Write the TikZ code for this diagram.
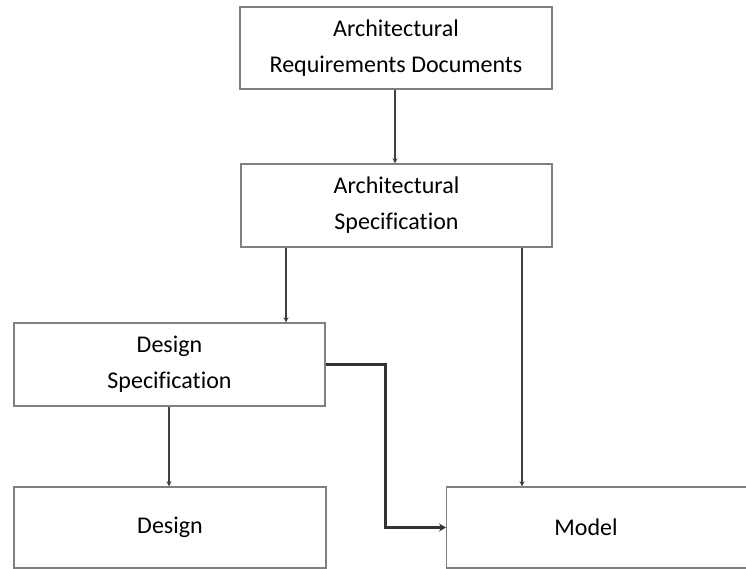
\documentclass[tikz,border=0pt]{standalone}
\usepackage{fontspec}
\setmainfont{Carlito}[Ligatures=NoCommon]
\usetikzlibrary{arrows.meta}
\begin{document}
\begin{tikzpicture}[x=1pt,y=-1pt,
  box/.style={draw=black!50, line width=1.4pt, fill=white, align=center,
    font=\fontsize{24}{36}\selectfont, inner sep=0pt},
  flow/.style={draw=black!75, line width=1.5pt, -{Stealth[length=5pt,width=5pt]}},
  heavyflow/.style={draw=black!80, line width=3pt, -{Stealth[length=7pt,width=8pt]}},
  lbl/.style={font=\fontsize{24}{36}\selectfont, inner sep=0pt}]
  % page frame
  \clip (0,0) rectangle (746,569);
  \fill[white] (0,0) rectangle (746,569);

  % boxes
  \node[box, minimum width=312, minimum height=82] (ard) at (396,48)
    {Architectural\\Requirements Documents};
  \node[box, minimum width=311, minimum height=83] (as) at (396.5,205.5)
    {Architectural\\Specification};
  \node[box, minimum width=311, minimum height=83] (ds) at (169.5,364.5)
    {Design\\Specification};
  \node[box, minimum width=312, minimum height=81] (design) at (170,527.5)
    {Design};
  \node[box, minimum width=360, minimum height=81, anchor=west] (model) at (446,527.5) {};
  \node[lbl] (modeltext) at (586,527) {Model};

  % connectors
  \draw[flow] (ard.south -| 395,0) -- (as.north -| 395,0);
  \draw[flow] (as.south -| 286,0) -- (ds.north -| 286,0);
  \draw[flow] (as.south -| 522,0) -- (model.north -| 522,0);
  \draw[flow] (ds.south -| 169,0) -- (design.north -| 169,0);
  \draw[heavyflow] (ds.east) -- (385,364.5) |- (model.west);
\end{tikzpicture}
\end{document}
